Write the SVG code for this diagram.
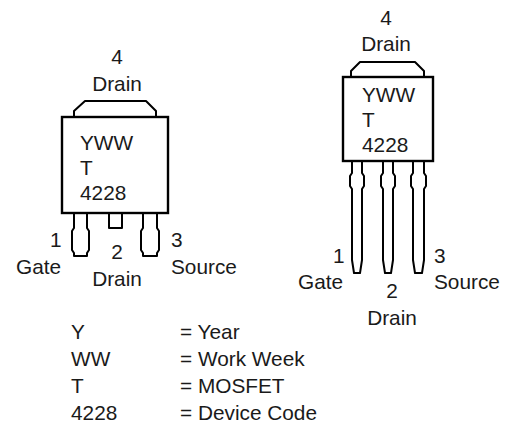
<svg xmlns="http://www.w3.org/2000/svg" width="509" height="423" viewBox="0 0 509 423">
<style>
text{font-family:"Liberation Sans",Arial,sans-serif;font-size:20.8px;fill:#1a1a1a}
.m{text-anchor:middle}
.o{fill:none;stroke:#000;stroke-width:2;stroke-linejoin:round}
.b{fill:#fff;stroke:#000;stroke-width:2.4}
</style>
<rect width="509" height="423" fill="#fff"/>
<g id="connectors"></g>
<g id="package-left">
<path class="o" d="M74 116V111L85 101H146L156 111V116"/>
<path class="o" d="M74 214V228L72 231V250L74 253V256H87V253L89 250V231L87 228V214"/>
<path class="o" d="M109 214V228H122V214"/>
<path class="o" d="M143 214V228L141 231V250L143 253V256H157V253L159 250V231L157 228V214"/>
<rect class="b" x="62" y="117" width="106" height="96"/>
<text x="80" y="150">YWW</text><text x="80" y="175">T</text><text x="80" y="200">4228</text>
</g>
<g id="labels-left">
<text class="m" x="117" y="64">4</text><text class="m" x="117" y="91">Drain</text>
<text x="50" y="247">1</text><text x="16" y="274">Gate</text>
<text class="m" x="117" y="259">2</text><text class="m" x="117" y="286">Drain</text>
<text x="171" y="247">3</text><text x="171" y="274">Source</text>
</g>
<g id="package-right">
<path class="o" d="M351 76V71L360 62H415L424 71V76"/>
<path class="o" d="M352 161V173L350 176V186L352 189V260L354 273H360L362 260V189L364 186V176L362 173V161"/>
<path class="o" d="M383 161V173L381 176V186L383 189V260L385 273H391L393 260V189L395 186V176L393 173V161"/>
<path class="o" d="M413 161V173L411 176V186L413 189V260L415 273H422L424 260V189L426 186V176L424 173V161"/>
<rect class="b" x="343" y="77" width="90" height="84"/>
<text x="362" y="102">YWW</text><text x="362" y="127">T</text><text x="362" y="152">4228</text>
</g>
<g id="labels-right">
<text class="m" x="386" y="25">4</text><text class="m" x="386" y="51">Drain</text>
<text x="333" y="263">1</text><text x="298" y="289">Gate</text>
<text class="m" x="392" y="298">2</text><text class="m" x="392" y="325">Drain</text>
<text x="434" y="263">3</text><text x="434" y="289">Source</text>
</g>
<g id="legend">
<text x="71" y="339">Y</text><text x="180" y="339">= Year</text>
<text x="71" y="366">WW</text><text x="180" y="366">= Work Week</text>
<text x="71" y="393">T</text><text x="180" y="393">= MOSFET</text>
<text x="71" y="420">4228</text><text x="180" y="420">= Device Code</text>
</g>
</svg>
